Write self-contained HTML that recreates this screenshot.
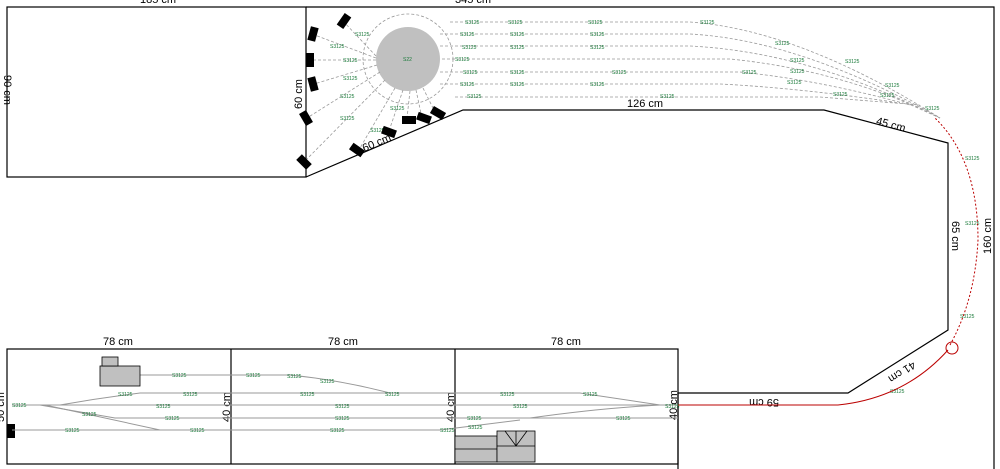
<!DOCTYPE html>
<html><head><style>
html,body{margin:0;padding:0;background:#fff;}
svg{display:block;font-family:"Liberation Sans",sans-serif;}
.g{font-size:5px;fill:#1a7a3a;}
.d{font-size:11px;fill:#000;}
</style></head><body>
<svg width="1000" height="469" viewBox="0 0 1000 469">
<!-- room outlines -->
<g fill="none" stroke="#000" stroke-width="1.2">
<rect x="7" y="7" width="299" height="170"/>
<polyline points="306,7 994,7 994,469"/>
<polyline points="306,177 463,110 824,110 948,143 948,330 848,393 678,393 678,469"/>
<rect x="7" y="349" width="671" height="115"/>
<line x1="231" y1="349" x2="231" y2="464"/>
<line x1="455" y1="349" x2="455" y2="464"/>
</g>
<text class="d" x="140" y="3">185 cm</text>
<text class="d" x="455" y="3">345 cm</text>
<text class="d" transform="translate(4,90) rotate(90)" text-anchor="middle">90 cm</text>
<text class="d" transform="translate(302,94) rotate(-90)" text-anchor="middle">60 cm</text>
<text class="d" transform="translate(378,146) rotate(-23)" text-anchor="middle">60 cm</text>
<text class="d" x="645" y="107" text-anchor="middle">126 cm</text>
<text class="d" transform="translate(890,128) rotate(15)" text-anchor="middle">45 cm</text>
<text class="d" transform="translate(952,236) rotate(90)" text-anchor="middle">65 cm</text>
<text class="d" transform="translate(991,236) rotate(-90)" text-anchor="middle">160 cm</text>
<text class="d" transform="translate(900,369) rotate(147)" text-anchor="middle">41 cm</text>
<text class="d" transform="translate(764,399) rotate(180)" text-anchor="middle">59 cm</text>
<text class="d" x="118" y="345" text-anchor="middle">78 cm</text>
<text class="d" x="343" y="345" text-anchor="middle">78 cm</text>
<text class="d" x="566" y="345" text-anchor="middle">78 cm</text>
<text class="d" transform="translate(230,407) rotate(-90)" text-anchor="middle">40 cm</text>
<text class="d" transform="translate(454,407) rotate(-90)" text-anchor="middle">40 cm</text>
<text class="d" transform="translate(677,405) rotate(-90)" text-anchor="middle">40 cm</text>
<text class="d" transform="translate(4,407) rotate(-90)" text-anchor="middle">50 cm</text>

<!-- turntable -->
<circle cx="408" cy="59" r="45" fill="none" stroke="#999" stroke-dasharray="3,2" stroke-width="0.8"/>
<circle cx="408" cy="59" r="32" fill="#c0c0c0"/>
<text class="g" x="403" y="61">S22</text>
<g stroke="#999" stroke-width="0.8" stroke-dasharray="3,2" fill="none">
<line x1="376" y1="56" x2="343" y2="21"/>
<line x1="376" y1="58" x2="312" y2="34"/>
<line x1="376" y1="60" x2="310" y2="60"/>
<line x1="377" y1="65" x2="314" y2="84"/>
<line x1="380" y1="72" x2="307" y2="118"/>
<line x1="385" y1="80" x2="304" y2="162"/>
<line x1="395" y1="88" x2="360" y2="148"/>
<line x1="403" y1="90" x2="390" y2="128"/>
<line x1="410" y1="91" x2="407" y2="118"/>
<line x1="416" y1="90" x2="422" y2="118"/>
<line x1="423" y1="88" x2="435" y2="112"/>
<!-- yard tracks -->
<path d="M450,22 L690,22 Q800,30 940,118"/>
<path d="M440,34 L690,34 Q800,40 940,118"/>
<path d="M440,46 L690,46 Q810,52 940,118"/>
<path d="M442,59 L730,59 Q820,68 900,100 L940,118"/>
<path d="M440,72 L740,72 Q820,80 910,105"/>
<path d="M440,84 L720,84 Q800,88 900,103"/>
<path d="M455,97 L820,97 L920,105"/>
</g>
<g class="g">
<text x="355" y="36">S3125</text><text x="330" y="48">S3125</text><text x="343" y="62">S3125</text>
<text x="343" y="80">S3125</text><text x="340" y="98">S3125</text><text x="340" y="120">S3125</text>
<text x="370" y="132">S3125</text><text x="390" y="110">S3125</text>
<text x="465" y="24">S3125</text><text x="460" y="36">S3125</text><text x="462" y="49">S3125</text><text x="455" y="61">S3125</text>
<text x="463" y="74">S3125</text><text x="460" y="86">S3125</text><text x="467" y="98">S3125</text>
<text x="508" y="24">S3125</text><text x="510" y="36">S3125</text><text x="510" y="49">S3125</text><text x="510" y="74">S3125</text><text x="510" y="86">S3125</text>
<text x="588" y="24">S3125</text><text x="590" y="36">S3125</text><text x="590" y="49">S3125</text><text x="612" y="74">S3125</text><text x="590" y="86">S3125</text><text x="660" y="98">S3125</text>
<text x="700" y="24">S3125</text><text x="775" y="45">S3125</text><text x="790" y="62">S3125</text><text x="790" y="73">S3125</text>
<text x="742" y="74">S3125</text><text x="787" y="84">S3125</text><text x="833" y="96">S3125</text><text x="845" y="63">S3125</text>
<text x="885" y="87">S3125</text><text x="880" y="97">S3125</text><text x="925" y="110">S3125</text><text x="965" y="160">S3125</text>
<text x="965" y="225">S3125</text><text x="960" y="318">S3125</text><text x="890" y="393">S3125</text>
</g>
<!-- locos -->
<g fill="#000">
<rect x="-4" y="-7" width="8" height="14" transform="translate(344,21) rotate(35)"/>
<rect x="-4" y="-7" width="8" height="14" transform="translate(313,34) rotate(15)"/>
<rect x="-4" y="-7" width="8" height="14" transform="translate(310,60)"/>
<rect x="-4" y="-7" width="8" height="14" transform="translate(313,84) rotate(-15)"/>
<rect x="-4" y="-7" width="8" height="14" transform="translate(306,118) rotate(-30)"/>
<rect x="-4" y="-7" width="8" height="14" transform="translate(304,162) rotate(-45)"/>
<rect x="-4" y="-7" width="8" height="14" transform="translate(357,150) rotate(-55)"/>
<rect x="-4" y="-7" width="8" height="14" transform="translate(389,132) rotate(-70)"/>
<rect x="-4" y="-7" width="8" height="14" transform="translate(409,120) rotate(-90)"/>
<rect x="-4" y="-7" width="8" height="14" transform="translate(424,118) rotate(-70)"/>
<rect x="-4" y="-7" width="8" height="14" transform="translate(438,113) rotate(-60)"/>
<rect x="7" y="424" width="8" height="14"/>
</g>
<!-- red mainline -->
<g fill="none" stroke="#b00" stroke-width="1">
<path d="M678,405 L838,405 Q905,398 948,350"/>
<circle cx="952" cy="348" r="6"/>
<path d="M950,345 Q975,300 978,240 Q978,160 935,118" stroke-dasharray="2,2"/>
</g>
<!-- lower tracks -->
<g fill="none" stroke="#999" stroke-width="1">
<line x1="132" y1="375" x2="290" y2="375"/>
<path d="M290,375 Q340,380 390,393"/>
<path d="M60,405 Q100,398 140,393 L580,393 L660,405"/>
<line x1="12" y1="405" x2="678" y2="405"/>
<path d="M40,405 L115,418 L678,418"/>
<path d="M530,418 Q600,408 660,405"/>
<line x1="12" y1="430" x2="440" y2="430"/>
<path d="M440,430 L520,420"/>
<path d="M45,405 L160,430"/>
</g>
<g class="g">
<text x="172" y="377">S3125</text><text x="246" y="377">S3125</text><text x="287" y="378">S3125</text><text x="320" y="383">S3125</text>
<text x="118" y="396">S3125</text><text x="183" y="396">S3125</text><text x="300" y="396">S3125</text><text x="385" y="396">S3125</text><text x="500" y="396">S3125</text><text x="583" y="396">S3125</text>
<text x="12" y="407">S3125</text><text x="156" y="408">S3125</text><text x="335" y="408">S3125</text><text x="513" y="408">S3125</text><text x="665" y="408">S3125</text>
<text x="82" y="416">S3125</text><text x="165" y="420">S3125</text><text x="335" y="420">S3125</text><text x="467" y="420">S3125</text><text x="616" y="420">S3125</text>
<text x="65" y="432">S3125</text><text x="190" y="432">S3125</text><text x="330" y="432">S3125</text><text x="440" y="432">S3125</text><text x="468" y="429">S3125</text>
</g>
<!-- buildings -->
<g fill="#c0c0c0" stroke="#000" stroke-width="0.8">
<rect x="100" y="366" width="40" height="20"/>
<rect x="102" y="357" width="16" height="9"/>
<rect x="455" y="436" width="42" height="26"/>
<line x1="455" y1="449" x2="497" y2="449"/>
<rect x="497" y="431" width="38" height="31"/>
<line x1="497" y1="446" x2="535" y2="446"/>
<polyline points="505,431 516,446 527,431" fill="none"/>
<line x1="516" y1="431" x2="516" y2="446"/>
</g>
</svg>
</body></html>
